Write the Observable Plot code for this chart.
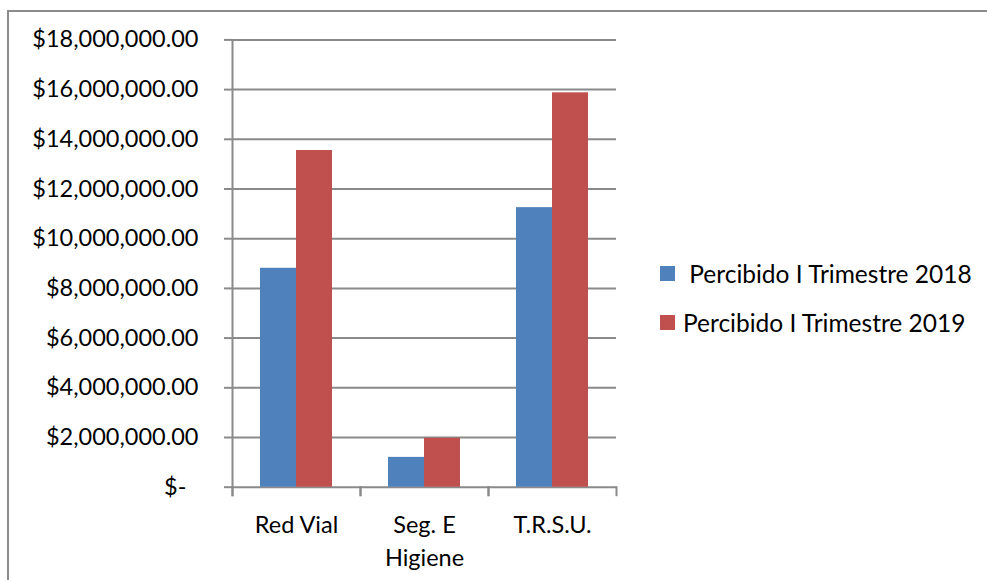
<!DOCTYPE html>
<html>
<head>
<meta charset="utf-8">
<script src="https://cdn.jsdelivr.net/npm/d3@7"></script>
<script src="https://cdn.jsdelivr.net/npm/@observablehq/plot@0.6"></script>
<style>
  html, body { margin: 0; padding: 0; background: #fff; overflow: hidden; }
  #wrap { position: relative; width: 987px; height: 580px; font-family: Lato, sans-serif; }
  #border { position: absolute; left: 7px; top: 10px; width: 1000px; height: 600px; border: 2px solid #8c8c8c; box-sizing: border-box; }
  #chart { position: absolute; left: 0; top: 0; }
  #legend { position: absolute; left: 660px; top: 0; font-family: Lato, sans-serif; font-size: 24.5px; color: #000; }
  .item { position: absolute; left: 0; white-space: pre; display: flex; align-items: center; }
  .sw { width: 15px; height: 15px; display: inline-block; margin-right: 8px; }
</style>
</head>
<body>
<div id="wrap">
  <div id="border"></div>
  <div id="chart"></div>
  <div id="legend"></div>
</div>
<script>
// ---- data ----
const categories = ["Red Vial", "Seg. E\nHigiene", "T.R.S.U."];
const series = ["Percibido I Trimestre 2018", "Percibido I Trimestre 2019"];
const values2018 = [8810000, 1200000, 11250000];
const values2019 = [13550000, 1970000, 15870000];
const yTicks = [0, 2000000, 4000000, 6000000, 8000000, 10000000, 12000000, 14000000, 16000000, 18000000];
const colors = ["#4f81bd", "#c0504d"];
const legendLabels = [" Percibido I Trimestre 2018", "Percibido I Trimestre 2019"];

const table = [];
categories.forEach((c, i) => {
  table.push({category: c, series: series[0], value: values2018[i]});
  table.push({category: c, series: series[1], value: values2019[i]});
});

// ---- layout ----
const W = 987, H = 580;
const mt = 39.4, mb = 93.3, ml = 231, mr = 370;
const plotH = H - mt - mb;
const gray = "#8a8a8a";
const fmt = d3.format(",.2f");

const chart = Plot.plot({
  width: W,
  height: H,
  marginTop: mt,
  marginBottom: mb,
  marginLeft: ml,
  marginRight: mr,
  style: {fontFamily: "Lato, sans-serif", fontSize: "23.5px", color: "#000", background: "transparent"},
  fx: {domain: categories, padding: 0, label: null},
  x: {domain: series, paddingInner: 0, paddingOuter: 0.757, axis: null},
  y: {domain: [0, 18000000], label: null},
  color: {domain: series, range: colors},
  marks: [
    Plot.gridY(yTicks, {stroke: gray, strokeOpacity: 1, strokeWidth: 2}),
    Plot.barY(table, {fx: "category", x: "series", y: "value", fill: "series", inset: 0}),
    Plot.axisY(yTicks, {
      tickSize: 8, tickPadding: 26, stroke: gray, strokeWidth: 2, fill: "#000",
      fontSize: 23.5, label: null,
      tickFormat: d => d === 0 ? "$-\u00a0\u00a0" : "$" + fmt(d)
    }),
    Plot.axisFx({anchor: "bottom", tickSize: 0, tickPadding: 23, fontSize: 23.5, lineHeight: 1.38, label: null, fill: "#000"}),
    Plot.frame({anchor: "left", facetAnchor: "left", insetBottom: -8, stroke: gray, strokeWidth: 2}),
    Plot.frame({anchor: "left", insetTop: plotH, insetBottom: -8, stroke: gray, strokeWidth: 2}),
    Plot.frame({anchor: "right", insetTop: plotH, insetBottom: -8, stroke: gray, strokeWidth: 2})
  ]
});
document.getElementById("chart").appendChild(chart);

// ---- legend ----
const legendTops = [267, 316];
const legend = document.getElementById("legend");
series.forEach((s, i) => {
  const item = document.createElement("div");
  item.className = "item";
  item.style.top = (legendTops[i] - 8) + "px";
  const sw = document.createElement("span");
  sw.className = "sw";
  sw.style.background = colors[i];
  const tx = document.createElement("span");
  tx.textContent = legendLabels[i];
  item.appendChild(sw);
  item.appendChild(tx);
  legend.appendChild(item);
});
</script>
</body>
</html>
